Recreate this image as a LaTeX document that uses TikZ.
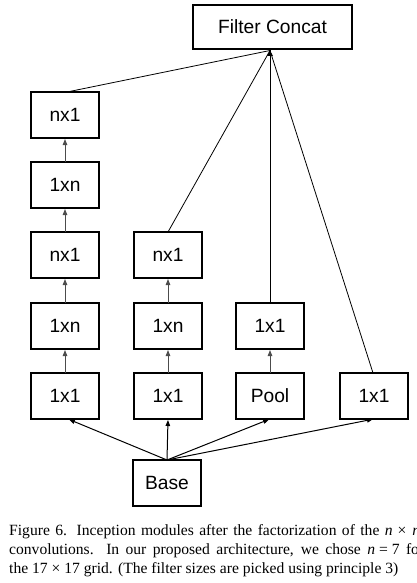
\documentclass[tikz,border=0pt]{standalone}
\usepackage{fontspec}
\setmainfont{Liberation Serif}
\newfontfamily\boxfont{Liberation Sans}
\usetikzlibrary{arrows.meta}
\begin{document}
\begin{tikzpicture}[x=1pt,y=-1pt,
  blk/.style={draw=black,line width=2pt,fill=white,minimum width=68pt,minimum height=46pt,inner sep=0pt,outer sep=0pt,font=\boxfont\fontsize{19.2}{22}\selectfont},
  conn/.style={draw=black!70,line width=1pt,-{Triangle[length=6pt,width=4.5pt]},shorten >=1pt},
  thin/.style={draw=black,line width=0.8pt},
  capline/.style={anchor=base west,inner sep=0pt,font=\fontsize{15.6}{19}\selectfont}]
\useasboundingbox (0,0) rectangle (417,583);
\begin{scope}
\clip (0,0) rectangle (417,583);
% nodes
\node[blk,minimum width=159pt,minimum height=44pt] (fc) at (272.5,27) {Filter Concat};
\node[blk] (a1) at (65,115) {nx1};
\node[blk] (a2) at (65,185) {1xn};
\node[blk] (a3) at (65,255) {nx1};
\node[blk] (a4) at (65,326) {1xn};
\node[blk] (a5) at (65,396) {1x1};
\node[blk] (b3) at (168,255) {nx1};
\node[blk] (b4) at (168,326) {1xn};
\node[blk] (b5) at (168,396) {1x1};
\node[blk] (c4) at (270,326) {1x1};
\node[blk] (c5) at (270,396) {Pool};
\node[blk] (d5) at (374,396) {1x1};
\node[blk] (base) at (167,483) {Base};
\coordinate (tip) at (270,50.5);
\coordinate (bt) at (167,460);
% column arrows
\draw[conn] (a5.north) -- (a4.south);
\draw[conn] (a4.north) -- (a3.south);
\draw[conn] (a3.north) -- (a2.south);
\draw[conn] (a2.north) -- (a1.south);
\draw[conn] (b5.north) -- (b4.south);
\draw[conn] (b4.north) -- (b3.south);
\draw[conn] (c5.north) -- (c4.south);
% base arrows
\draw[conn,draw=black] (bt) -- ([xshift=3pt]a5.south);
\draw[conn,draw=black] (bt) -- (b5.south);
\draw[conn,draw=black] (bt) -- (c5.south);
\draw[conn,draw=black] (bt) -- (d5.south);
% to filter concat
\draw[thin] ([xshift=2pt]a1.north) -- (tip);
\draw[thin] (b3.north) -- (tip);
\draw[thin] (c4.north) -- (tip);
\draw[thin] ([xshift=-1pt]d5.north) -- (tip);
\fill (tip) -- ++(-3,5.5) -- ++(6,0) -- cycle;
% caption
\node[capline] (l1) at (9,535.5) {\makebox[411pt][s]{Figure 6. Inception modules after the factorization of the \mbox{\textit{n}\hspace{5pt}×\hspace{6pt}\textit{n}}}};
\node[capline] (l2) at (9,554.5) {\makebox[415pt][s]{convolutions. In our proposed architecture, we chose \mbox{\textit{n}\hspace{4pt}=\hspace{4pt}7} for}};
\node[capline] (l3) at (9,573.5) {the 17 × 17 grid. (The filter sizes are picked using principle 3)};
\end{scope}
\end{tikzpicture}
\end{document}
